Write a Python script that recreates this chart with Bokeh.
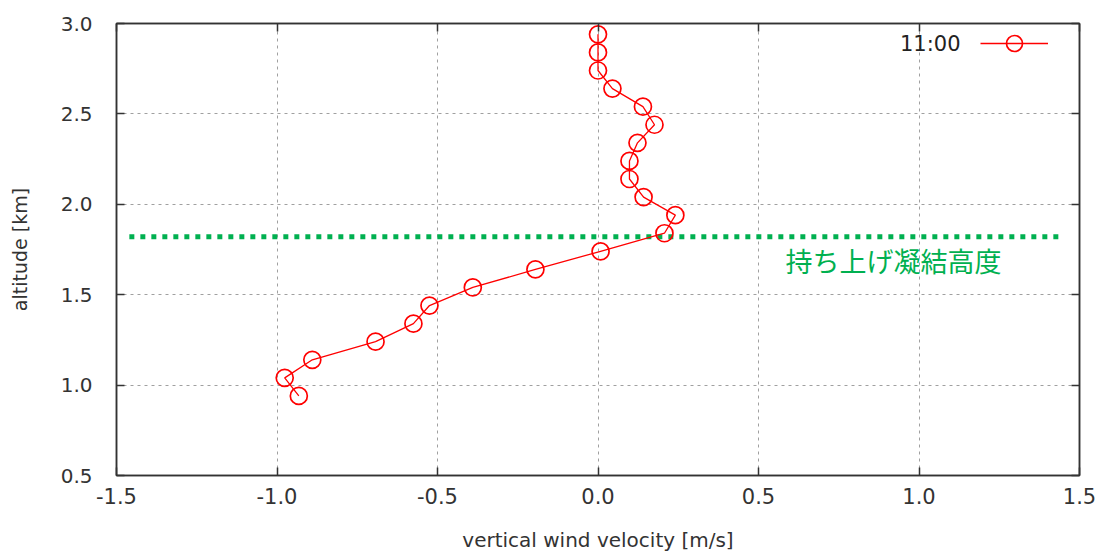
from bokeh.plotting import figure
from bokeh.models import (Range1d, FixedTicker, NumeralTickFormatter, LinearAxis,
                          Legend, LegendItem, Label, ColumnDataSource)
from bokeh.embed import file_html
from bokeh.resources import INLINE

# ---- data ----
velocity = [0.00, 0.00, 0.00, 0.045, 0.14, 0.176, 0.123, 0.098, 0.098, 0.142, 0.241,
            0.207, 0.008, -0.195, -0.39, -0.525, -0.575, -0.693, -0.89, -0.976, -0.932]
altitude = [2.94, 2.84, 2.74, 2.64, 2.54, 2.44, 2.34, 2.24, 2.14, 2.04, 1.94,
            1.84, 1.74, 1.64, 1.54, 1.44, 1.34, 1.24, 1.14, 1.04, 0.94]
series_name = "11:00"
lcl_altitude = 1.82
lcl_x_extent = [-1.46, 1.44]
lcl_text = "持ち上げ凝結高度"
x_ticks = [-1.5, -1.0, -0.5, 0.0, 0.5, 1.0, 1.5]
y_ticks = [0.5, 1.0, 1.5, 2.0, 2.5, 3.0]
x_title = "vertical wind velocity [m/s]"
y_title = "altitude [km]"

FONT = "DejaVu Sans"
TXT = "#333333"
GREEN = "#00b050"

p = figure(frame_width=963, frame_height=452, output_backend="svg", toolbar_location=None,
           x_range=Range1d(-1.5, 1.5), y_range=Range1d(0.5, 3.0),
           min_border_left=116, min_border_right=18, min_border_top=23, min_border_bottom=76)
p.background_fill_color = "white"
p.border_fill_color = "white"
p.outline_line_color = "#333333"
p.outline_line_width = 1.5

for ax, ticks in ((p.xaxis[0], x_ticks), (p.yaxis[0], y_ticks)):
    ax.ticker = FixedTicker(ticks=ticks)
    ax.formatter = NumeralTickFormatter(format="0.0")
    ax.major_tick_in = 8
    ax.major_tick_out = 0
    ax.minor_tick_in = 0
    ax.minor_tick_out = 0
    ax.major_tick_line_color = "#333333"
    ax.major_tick_line_width = 1.5
    ax.axis_line_color = "#333333"
    ax.axis_line_width = 1.5
    ax.major_label_text_font = FONT
    ax.major_label_text_color = TXT
    ax.axis_label_text_font = FONT
    ax.axis_label_text_font_style = "normal"
    ax.axis_label_text_color = TXT

p.xaxis[0].major_label_text_font_size = "21px"
p.yaxis[0].major_label_text_font_size = "20px"
p.xaxis[0].axis_label = x_title
p.yaxis[0].axis_label = y_title
p.xaxis[0].axis_label_text_font_size = "20px"
p.yaxis[0].axis_label_text_font_size = "19px"
p.xaxis[0].major_label_standoff = 12
p.xaxis[0].axis_label_standoff = 21
p.yaxis[0].major_label_standoff = 24
p.yaxis[0].axis_label_standoff = 27

for loc, ticks in (("above", x_ticks), ("right", y_ticks)):
    ax = LinearAxis(ticker=FixedTicker(ticks=ticks), major_label_text_font_size="1px",
                    major_label_text_color=None, major_label_text_alpha=0,
                    major_label_standoff=0, major_tick_in=8, major_tick_out=0,
                    minor_tick_in=0, minor_tick_out=0, major_tick_line_color="#333333",
                    major_tick_line_width=1.5, axis_line_color="#333333", axis_line_width=1.5)
    p.add_layout(ax, loc)

for g in (p.xgrid[0], p.ygrid[0]):
    g.grid_line_color = "#a0a0a0"
    g.grid_line_dash = "3 4"
    g.grid_line_width = 1
p.xgrid[0].ticker = FixedTicker(ticks=x_ticks)
p.ygrid[0].ticker = FixedTicker(ticks=y_ticks)

# LCL line
p.line(x=lcl_x_extent, y=[lcl_altitude, lcl_altitude], line_color=GREEN,
       line_width=5, line_dash="5 6")
p.add_layout(Label(x=669, y=215, x_units="screen", y_units="screen", text=lcl_text,
                   text_font="Noto Sans CJK JP", text_font_size="27px",
                   text_color=GREEN, text_baseline="middle", text_align="left"))

src = ColumnDataSource(dict(v=velocity, h=altitude))
lr = p.line("v", "h", source=src, line_color="red", line_width=1.3)
cr = p.scatter("v", "h", source=src, marker="circle", size=17, fill_color=None,
               line_color="red", line_width=1.7)

legend = Legend(items=[LegendItem(label=" ", renderers=[lr, cr])],
                location=(864, 412), padding=0, margin=0, spacing=0,
                glyph_width=68, glyph_height=40, label_standoff=0,
                label_text_font_size="8px", border_line_color=None,
                background_fill_alpha=0)
p.add_layout(legend)
p.add_layout(Label(x=844, y=432, x_units="screen", y_units="screen", text=series_name,
                   text_font=FONT, text_font_size="21px", text_color="#222222",
                   text_baseline="middle", text_align="right"))

open("out.html", "w").write(file_html(p, INLINE))
